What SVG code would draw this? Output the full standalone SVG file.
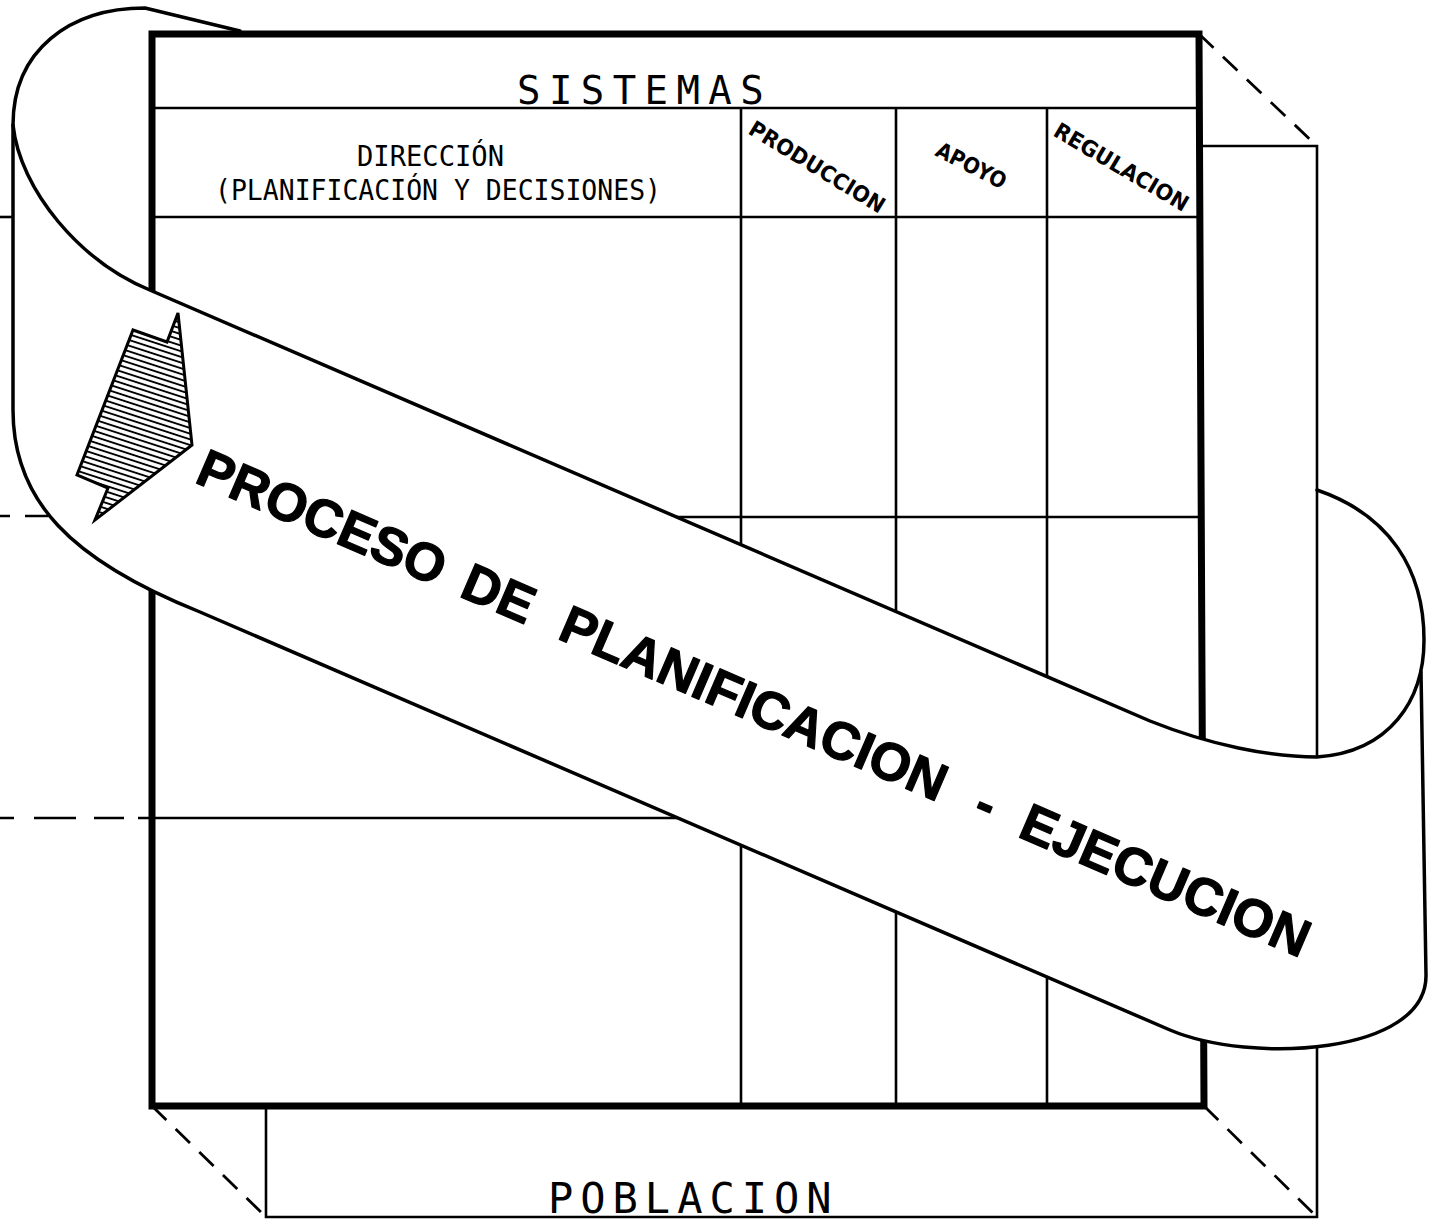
<svg xmlns="http://www.w3.org/2000/svg" width="1434" height="1223" viewBox="0 0 1434 1223">
<style>
  .thick{fill:none;stroke:#000;stroke-width:7;stroke-linejoin:miter}
  .grid{fill:none;stroke:#000;stroke-width:2.6}
  .back{fill:none;stroke:#000;stroke-width:2.6}
  .dash{fill:none;stroke:#000;stroke-width:2.8;stroke-dasharray:20 13}
  .rib{fill:none;stroke:#000;stroke-width:3.5;stroke-linejoin:round;stroke-linecap:round}
  .ribfill{fill:#fff;stroke:none}
  .mono{font-family:"DejaVu Sans Mono","Liberation Mono",monospace;fill:#000}
  .hand{font-family:"DejaVu Sans","Liberation Sans",sans-serif;font-weight:bold;fill:#000}
  .big{font-family:"Liberation Sans",Arial,sans-serif;font-weight:bold;font-size:53px;fill:#000;stroke:#000;stroke-width:1.2;stroke-linejoin:round}
</style>
<defs>
  <pattern id="hatch" patternUnits="userSpaceOnUse" width="12" height="5.4" patternTransform="rotate(18)">
    <rect width="12" height="5.4" fill="#fff"/>
    <line x1="0" y1="2.7" x2="12" y2="2.7" stroke="#000" stroke-width="1.9"/>
  </pattern>
</defs>
<rect width="1434" height="1223" fill="#fff"/>

<g id="poblacion-box">
  <path class="dash" d="M1199,34 L1317,146"/>
  <path class="back" d="M1203,146 H1317 V1217 H266 V1108"/>
  <path class="dash" d="M152,1106 L266,1217"/>
  <path class="dash" d="M1204,1106 L1317,1217"/>
  <path class="back" d="M0,217 H13"/>
  <path class="back" d="M0,516 H10 M25,516 H48"/>
  <path class="back" d="M0,818 H14 M34,818 H76 M94,818 H124 M138,818 H152"/>
  <text class="mono" x="548" y="1213" font-size="42" letter-spacing="7">POBLACION</text>
</g>

<g id="sistemas-box">
  <path class="grid" d="M152,108 H1200 M152,217 H1200 M152,517 H1201 M152,818 H1202 M741,108 V1106 M896,108 V1106 M1047,108 V1106"/>
  <path class="thick" d="M152,34 H1199 L1204,1106 H152 Z"/>
  <text class="mono" x="517" y="104" font-size="39" letter-spacing="8.4">SISTEMAS</text>
  <text class="mono" x="357" y="166" font-size="29" textLength="147" lengthAdjust="spacingAndGlyphs">DIRECCIÓN</text>
  <text class="mono" x="215" y="200" font-size="29" textLength="446" lengthAdjust="spacingAndGlyphs">(PLANIFICACIÓN Y DECISIONES)</text>
  <text class="hand" font-size="22" transform="translate(747,133) rotate(31.5)" textLength="155" lengthAdjust="spacingAndGlyphs">PRODUCCION</text>
  <text class="hand" font-size="22" transform="translate(934,155) rotate(27)" textLength="76" lengthAdjust="spacingAndGlyphs">APOYO</text>
  <text class="hand" font-size="22" transform="translate(1052,135) rotate(30.5)" textLength="152" lengthAdjust="spacingAndGlyphs">REGULACION</text>
</g>

<g id="ribbon">
  <path class="ribfill" d="M13,125 C20,190 80,262 152,291 L1150,721 C1210,745 1270,757 1317,757 C1390,752 1424,700 1424,640 L1426,975 C1427,1055 1250,1064 1170,1030 L200,612 C70,560 13,500 13,410 Z"/>
  <path class="rib" d="M240,31 L145,8 C70,8 13,50 13,125 L13,410 C13,500 70,560 200,612 L1170,1030 C1250,1064 1427,1055 1426,975 L1421,672"/>
  <path class="rib" d="M13,125 C20,190 80,262 152,291 L1150,721 C1210,745 1270,757 1317,757 C1390,752 1424,700 1424,640 C1424,570 1390,515 1317,490"/>
  <polygon points="178,313 192,445 95,520 108,488 77,475 133,330 167,342" fill="url(#hatch)" stroke="#000" stroke-width="3" stroke-linejoin="miter"/>
  <text class="big" transform="translate(196,483) rotate(23.28)"><tspan x="-3" y="0">PROCESO</tspan> <tspan x="285">DE</tspan> <tspan x="392">PLANIFICACION</tspan> <tspan x="844">-</tspan> <tspan x="893">EJECUCION</tspan></text>
</g>
</svg>
